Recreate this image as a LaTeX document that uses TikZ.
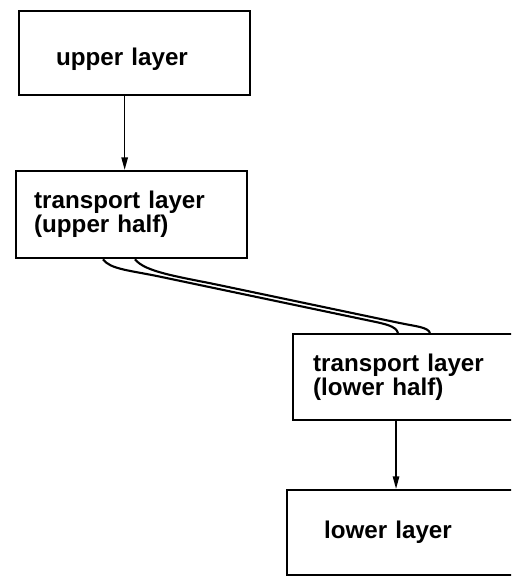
\documentclass[tikz,border=0pt]{standalone}
\usepackage{fontspec}
\setmainfont{Liberation Sans}
\usepackage{tikz}
\usetikzlibrary{arrows.meta, calc}
\tikzset{
  layerbox/.style={draw, line width=1.6pt, anchor=north west, align=left,
    font=\bfseries\fontsize{17.2pt}{15.6pt}\selectfont},
  downarrow/.style={-{Triangle[length=9pt,width=4.5pt]}, line width=1.2pt},
  halfline/.style={line width=1.5pt}
}

\begin{document}
\begin{tikzpicture}[x=0.025cm, y=0.025cm]

  \useasboundingbox (0,0) rectangle (511,-582);
  \clip (0,0) rectangle (511,-582);

  \node[layerbox, minimum width=5.775cm, minimum height=2.1cm,
    inner xsep=0.925cm, text width=3.925cm, text height=20.6pt, text depth=3.6pt]
    (upper) at (18,-10) {upper layer};

  \node[layerbox, minimum width=5.775cm, minimum height=2.175cm,
    inner xsep=0.45cm, text width=4.875cm]
    (tup) at (15,-170) {transport layer\\(upper half)};

  \node[layerbox, minimum width=6cm, minimum height=2.15cm,
    inner xsep=0.5cm, text width=5cm]
    (tlow) at (292,-333) {transport layer\\(lower half)};

  \node[layerbox, minimum width=6cm, minimum height=2.125cm,
    inner xsep=0.925cm, text width=4.15cm]
    (lower) at (286,-489) {lower layer};

  \draw[downarrow] ([xshift=-0.25cm]upper.south) -- ([xshift=-0.25cm]upper.south |- tup.north);
  \draw[downarrow] ([xshift=2.6cm]tlow.south west) -- ([xshift=2.6cm]tlow.south west |- lower.north);

  % the two halves of the transport layer
  \draw[halfline] ($(tup.south west)+(88,0)$)
    .. controls +(7,-10) and +(-30,6.3) .. ++(57,-17.4)
    -- ++(210,-44.1)
    .. controls +(15,-3.1) and +(-2,7) .. ($(tlow.north west)+(106,0)$);
  \draw[halfline] ($(tup.south west)+(120,0)$)
    .. controls +(10,-13) and +(-40,8.4) .. ++(85,-26)
    -- ++(180,-37.8)
    .. controls +(15,-3.2) and +(-2,6) .. ($(tlow.north west)+(138,0)$);

\end{tikzpicture}
\end{document}
